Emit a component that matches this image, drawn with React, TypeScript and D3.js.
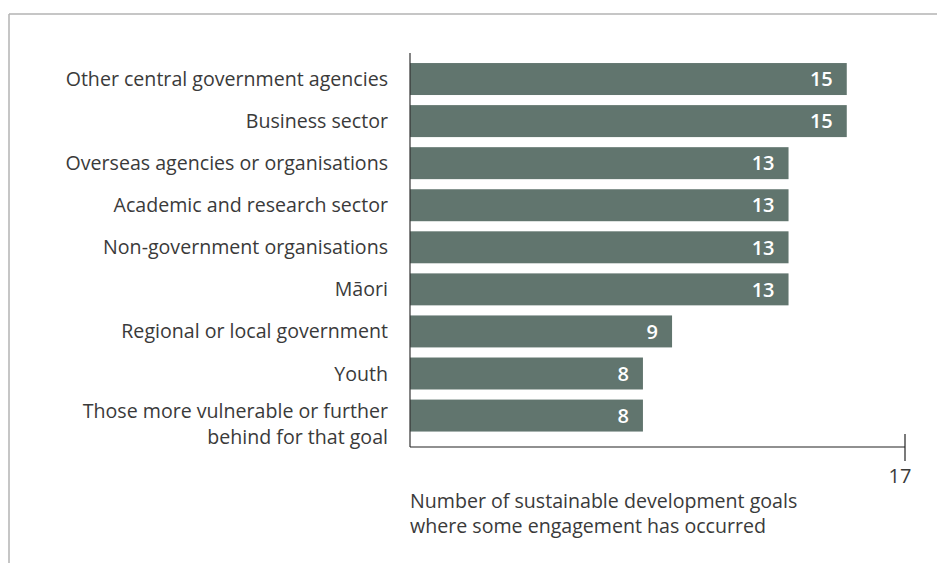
import { useEffect, useRef } from 'react';
import * as d3 from 'd3';

const categories = [
  'Other central government agencies',
  'Business sector',
  'Overseas agencies or organisations',
  'Academic and research sector',
  'Non-government organisations',
  'Māori',
  'Regional or local government',
  'Youth',
  'Those more vulnerable or further|behind for that goal',
];
const values = [15, 15, 13, 13, 13, 13, 9, 8, 8];
const axisMax = 17;
const axisTitle = ['Number of sustainable development goals', 'where some engagement has occurred'];

const FONT = '"Open Sans", sans-serif';
const BAR = '#61756e';
const TEXT = '#3a3a3a';

export default function App() {
  const svgRef = useRef<SVGSVGElement>(null);

  useEffect(() => {
    if (!svgRef.current) return;
    const W = 937;
    const H = 563;
    const svg = d3.select(svgRef.current);
    svg.selectAll('*').remove();
    svg.attr('width', W).attr('height', H);

    // frame
    svg.append('line').attr('x1', 9).attr('x2', W).attr('y1', 14).attr('y2', 14)
      .attr('stroke', '#b3b3b3').attr('stroke-width', 1.5);
    svg.append('line').attr('x1', 9).attr('x2', 9).attr('y1', 14).attr('y2', H)
      .attr('stroke', '#b3b3b3').attr('stroke-width', 1.5);

    const x = d3.scaleLinear().domain([0, axisMax]).range([410, 905]);
    const y = d3.scaleBand<number>()
      .domain(d3.range(categories.length))
      .range([58, 436.6])
      .paddingInner(0.24)
      .paddingOuter(0.12);

    const g = svg.append('g');

    g.selectAll('rect.bar')
      .data(values)
      .enter()
      .append('rect')
      .attr('class', 'bar')
      .attr('x', x(0))
      .attr('y', (_, i) => y(i)!)
      .attr('width', (d) => x(d) - x(0))
      .attr('height', y.bandwidth())
      .attr('fill', BAR);

    g.selectAll('text.value')
      .data(values)
      .enter()
      .append('text')
      .attr('class', 'value')
      .attr('x', (d) => x(d) - 14)
      .attr('y', (_, i) => y(i)! + y.bandwidth() / 2)
      .attr('dy', '0.36em')
      .attr('text-anchor', 'end')
      .attr('font-family', FONT)
      .attr('font-size', 20)
      .attr('font-weight', 600)
      .attr('fill', '#fff')
      .text((d) => d);

    // category labels
    categories.forEach((c, i) => {
      const lines = c.split('|');
      const cy = y(i)! + y.bandwidth() / 2;
      const t = g.append('text')
        .attr('text-anchor', 'end')
        .attr('font-family', FONT)
        .attr('font-size', 19.6)
        .attr('fill', TEXT);
      lines.forEach((ln, j) => {
        const off = lines.length === 1 ? 0 : -5 + j * 26;
        t.append('tspan')
          .attr('x', 388)
          .attr('y', cy + off)
          .attr('dy', '0.36em')
          .text(ln);
      });
    });

    // axes
    g.append('line').attr('x1', x(0)).attr('x2', x(0)).attr('y1', 53).attr('y2', 447)
      .attr('stroke', '#333').attr('stroke-width', 1.2);
    g.append('line').attr('x1', x(0)).attr('x2', x(axisMax)).attr('y1', 447).attr('y2', 447)
      .attr('stroke', '#222').attr('stroke-width', 1.2);
    g.append('line').attr('x1', x(axisMax)).attr('x2', x(axisMax)).attr('y1', 434).attr('y2', 461)
      .attr('stroke', '#222').attr('stroke-width', 1.2);
    g.append('text')
      .attr('x', x(axisMax) - 5)
      .attr('y', 483)
      .attr('text-anchor', 'middle')
      .attr('font-family', FONT)
      .attr('font-size', 20)
      .attr('fill', TEXT)
      .text(axisMax);

    axisTitle.forEach((ln, j) => {
      g.append('text')
        .attr('x', x(0))
        .attr('y', 508 + j * 25)
        .attr('font-family', FONT)
        .attr('font-size', 19.6)
        .attr('fill', TEXT)
        .text(ln);
    });
  }, []);

  return (
    <div style={{ position: 'absolute', left: 0, top: 0 }}>
      <svg ref={svgRef} role="img" aria-label="Engagement by sector chart" />
    </div>
  );
}
